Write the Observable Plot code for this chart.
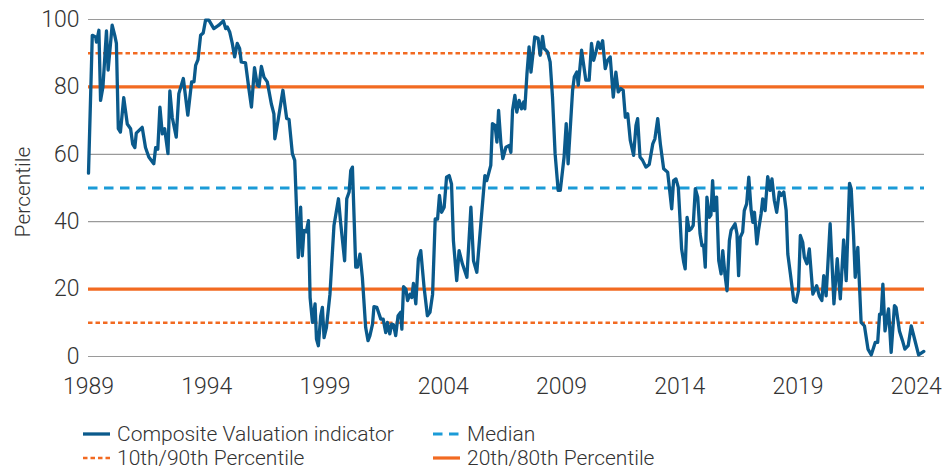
<!DOCTYPE html>
<html>
<head>
<meta charset="utf-8">
<script src="https://cdn.jsdelivr.net/npm/d3@7"></script>
<script src="https://cdn.jsdelivr.net/npm/@observablehq/plot@0.6"></script>
<style>
  html, body { margin: 0; padding: 0; background: #fff; }
  #wrap { position: relative; width: 948px; height: 470px; font-family: Roboto, "Open Sans", sans-serif; font-weight: 300; color: #333; }
  #legend { position: absolute; left: 0; top: 422px; width: 948px; }
  .item { position: absolute; display: flex; align-items: center; height: 24px; line-height: 24px; font-size: 21px; white-space: nowrap; }
  .item svg { margin-right: 7px; }
</style>
</head>
<body>
<div id="wrap"><div id="chart"></div><div id="legend"></div></div>
<script>
// Composite valuation indicator (percentile)
const years = [
1989.00,1989.16,1989.30,1989.34,1989.44,1989.51,1989.61,1989.76,1989.83,1990.00,
1990.11,1990.18,1990.26,1990.35,1990.49,1990.64,1990.78,1990.87,1990.96,1991.02,
1991.27,1991.41,1991.55,1991.76,1991.84,1991.93,1992.02,1992.12,1992.22,1992.36,
1992.44,1992.54,1992.71,1992.82,1993.01,1993.20,1993.36,1993.46,1993.53,1993.63,
1993.74,1993.85,1993.95,1994.09,1994.30,1994.51,1994.70,1994.80,1994.87,1994.97,
1995.08,1995.18,1995.29,1995.39,1995.46,1995.64,1995.78,1995.89,1996.02,1996.14,
1996.21,1996.31,1996.42,1996.56,1996.73,1996.84,1996.88,1997.01,1997.22,1997.38,
1997.48,1997.62,1997.72,1997.80,1997.87,1997.97,1998.04,1998.11,1998.21,1998.30,
1998.37,1998.47,1998.58,1998.64,1998.72,1998.82,1998.89,1998.96,1999.06,1999.21,
1999.38,1999.57,1999.66,1999.83,1999.92,2000.02,2000.09,2000.16,2000.30,2000.37,
2000.48,2000.58,2000.72,2000.82,2000.90,2001.01,2001.07,2001.19,2001.36,2001.46,
2001.57,2001.64,2001.74,2001.82,2001.90,2001.99,2002.09,2002.20,2002.25,2002.32,
2002.42,2002.49,2002.60,2002.67,2002.74,2002.84,2002.95,2003.05,2003.19,2003.33,
2003.44,2003.55,2003.66,2003.76,2003.84,2003.93,2004.04,2004.14,2004.25,2004.35,
2004.43,2004.57,2004.67,2004.81,2005.00,2005.17,2005.28,2005.42,2005.59,2005.76,
2005.84,2006.01,2006.08,2006.19,2006.27,2006.34,2006.44,2006.52,2006.65,2006.79,
2006.86,2006.93,2007.03,2007.11,2007.21,2007.31,2007.40,2007.45,2007.54,2007.63,
2007.71,2007.87,2008.01,2008.10,2008.20,2008.27,2008.41,2008.52,2008.62,2008.73,
2008.86,2008.95,2009.11,2009.20,2009.28,2009.47,2009.54,2009.65,2009.71,2009.85,
2010.03,2010.17,2010.27,2010.36,2010.46,2010.55,2010.64,2010.74,2010.85,2010.95,
2011.06,2011.19,2011.30,2011.40,2011.51,2011.61,2011.70,2011.80,2011.91,2012.05,
2012.15,2012.22,2012.32,2012.43,2012.57,2012.71,2012.86,2012.95,2013.07,2013.18,
2013.32,2013.49,2013.66,2013.74,2013.84,2013.94,2014.08,2014.17,2014.23,2014.31,
2014.40,2014.49,2014.57,2014.66,2014.76,2014.86,2014.94,2015.01,2015.08,2015.15,
2015.25,2015.32,2015.39,2015.46,2015.56,2015.65,2015.75,2015.82,2015.91,2016.00,
2016.10,2016.17,2016.34,2016.42,2016.49,2016.56,2016.66,2016.73,2016.83,2016.92,
2017.02,2017.09,2017.16,2017.26,2017.33,2017.44,2017.51,2017.61,2017.72,2017.82,
2017.90,2018.00,2018.10,2018.21,2018.30,2018.40,2018.50,2018.57,2018.68,2018.82,
2018.92,2019.02,2019.10,2019.20,2019.27,2019.38,2019.48,2019.63,2019.79,2019.90,
2020.01,2020.09,2020.19,2020.36,2020.52,2020.66,2020.79,2020.93,2021.04,2021.18,
2021.25,2021.35,2021.42,2021.53,2021.67,2021.81,2021.96,2022.10,2022.27,2022.37,
2022.45,2022.52,2022.59,2022.68,2022.83,2022.94,2023.08,2023.15,2023.29,2023.42,
2023.52,2023.66,2023.79,2023.93,2024.10,2024.21,2024.32
];
const values = [
54.4,95.3,94.8,93.3,96.8,76.0,80.0,96.6,85.0,98.3,
95.3,92.9,67.6,66.6,76.8,69.0,67.6,63.0,62.0,66.3,
68.0,62.0,59.2,57.2,62.0,61.5,74.0,66.1,67.6,60.2,
78.8,71.0,65.1,78.0,82.5,71.6,81.5,81.5,86.4,88.1,
95.3,96.0,99.8,99.8,97.3,98.3,99.6,97.3,97.8,96.3,
92.9,88.9,92.9,91.4,87.4,87.1,79.5,74.0,85.7,80.5,
80.1,86.1,82.9,81.5,75.0,72.0,64.6,69.8,79.0,70.6,
70.3,60.2,58.2,43.3,29.4,44.3,29.9,37.4,37.0,40.3,
17.5,10.1,15.6,5.2,3.2,12.1,14.6,5.6,8.6,18.5,
38.9,46.8,39.8,28.4,46.8,48.8,55.2,56.2,26.5,26.5,
30.4,23.5,8.6,4.7,6.2,9.6,14.8,14.6,11.1,11.1,
7.1,10.1,6.7,9.6,9.4,6.2,12.1,13.1,8.1,20.7,
20.0,16.6,18.5,17.5,21.7,15.6,29.0,31.4,20.5,12.1,
13.1,18.5,40.8,40.8,47.8,42.8,44.3,53.2,53.7,51.2,
34.4,22.5,31.4,27.5,23.5,44.3,28.4,25.0,39.4,53.7,
52.2,56.7,69.1,68.6,63.6,73.0,63.1,58.7,62.1,62.6,
60.6,73.0,77.5,72.5,76.0,73.5,75.5,73.5,83.9,91.9,
84.4,94.8,94.4,89.4,95.0,91.4,90.4,87.4,77.0,60.2,
49.3,49.3,59.2,69.1,57.2,79.0,82.9,84.4,80.5,90.9,
82.0,82.0,92.9,87.9,90.4,93.3,91.4,93.7,85.4,87.9,
88.9,77.0,84.4,78.5,79.5,79.0,71.0,72.0,64.1,59.7,
68.6,70.6,59.2,58.2,56.2,57.0,63.1,64.6,70.6,63.1,
55.7,54.7,43.8,52.2,52.7,50.2,31.9,27.9,26.0,41.3,
37.4,37.9,38.9,49.8,47.3,36.4,32.9,33.0,26.5,47.3,
41.3,42.0,52.2,43.3,47.3,28.4,24.5,31.4,24.5,19.5,
34.4,37.4,39.4,36.4,24.0,35.4,36.9,43.3,45.3,53.2,
43.3,39.8,42.8,33.4,37.4,42.3,46.8,43.3,53.4,49.3,
52.7,46.3,42.8,48.8,47.8,48.8,43.3,30.4,24.5,16.6,
16.1,19.5,35.9,33.9,29.4,27.5,31.9,18.5,21.0,18.0,
16.6,24.0,18.0,39.4,15.6,29.0,17.1,34.6,22.5,51.4,
49.8,35.9,23.5,32.4,10.1,9.1,2.2,0.5,4.2,4.2,
12.6,12.6,21.5,7.6,14.1,1.2,15.1,14.5,7.6,4.7,
2.2,3.2,9.1,5.2,0.5,1.0,1.5
];
const xTicks = [1989, 1994, 1999, 2004, 2009, 2014, 2019, 2024];
const yTicks = [0, 20, 40, 60, 80, 100];
const tenNinety = [10, 90];
const twentyEighty = [20, 80];
const medianLevel = [50];
const seriesNames = ["Composite Valuation indicator", "Median", "10th/90th Percentile", "20th/80th Percentile"];

const colBlue = "#0a5a8c", colOrange = "#f26a21", colLight = "#1b9bd7";
const data = years.map((y, i) => ({year: y, value: values[i]}));

const chart = Plot.plot({
  width: 948,
  height: 410,
  marginLeft: 88,
  marginRight: 24,
  marginTop: 19,
  marginBottom: 54,
  x: {domain: [1989, 2024.35]},
  y: {domain: [0, 100]},
  style: {fontFamily: "Roboto, 'Open Sans', sans-serif", fontSize: "23px", fontWeight: 300, color: "#333", background: "#fff", overflow: "visible"},
  marks: [
    Plot.gridY(yTicks, {stroke: "#9a9a9a", strokeOpacity: 1, strokeWidth: 1.2}),
    Plot.axisX({ticks: xTicks, tickSize: 0, tickPadding: 21, tickFormat: d => String(d), label: null}),
    Plot.axisY({ticks: yTicks, tickSize: 0, tickPadding: 9, label: null}),
    Plot.ruleY(tenNinety, {stroke: colOrange, strokeWidth: 2.4, strokeDasharray: "4.5,3"}),
    Plot.ruleY(twentyEighty, {stroke: colOrange, strokeWidth: 3.2}),
    Plot.ruleY(medianLevel, {stroke: colLight, strokeWidth: 2.8, strokeDasharray: "9.5,6.5"}),
    Plot.lineY(data, {x: "year", y: "value", stroke: colBlue, strokeWidth: 3.3, strokeLinejoin: "round"}),
    Plot.text(["Percentile"], {frameAnchor: "left", dx: -65, dy: 4, rotate: -90, fontSize: 21, textAnchor: "middle", lineAnchor: "middle", fill: "#333"})
  ]
});
document.getElementById("chart").appendChild(chart);

// Legend (below the SVG)
const legendItems = [
  {name: seriesNames[0], color: colBlue, dash: null, width: 3.3, col: 0, row: 0},
  {name: seriesNames[1], color: colLight, dash: "9.5,6.5", width: 2.8, col: 1, row: 0},
  {name: seriesNames[2], color: colOrange, dash: "4.5,3", width: 2.4, col: 0, row: 1},
  {name: seriesNames[3], color: colOrange, dash: null, width: 3.2, col: 1, row: 1}
];
const colLeft = [83, 433];
const legend = document.getElementById("legend");
legendItems.forEach(it => {
  const div = document.createElement("div");
  div.className = "item";
  div.style.left = colLeft[it.col] + "px";
  div.style.top = (it.row * 24) + "px";
  const svg = d3.create("svg").attr("width", 27).attr("height", 8);
  svg.append("line").attr("x1", 0).attr("x2", 27).attr("y1", 4).attr("y2", 4)
    .attr("stroke", it.color).attr("stroke-width", it.width)
    .attr("stroke-dasharray", it.dash);
  div.appendChild(svg.node());
  const span = document.createElement("span");
  span.textContent = it.name;
  div.appendChild(span);
  legend.appendChild(div);
});
</script>
</body>
</html>
